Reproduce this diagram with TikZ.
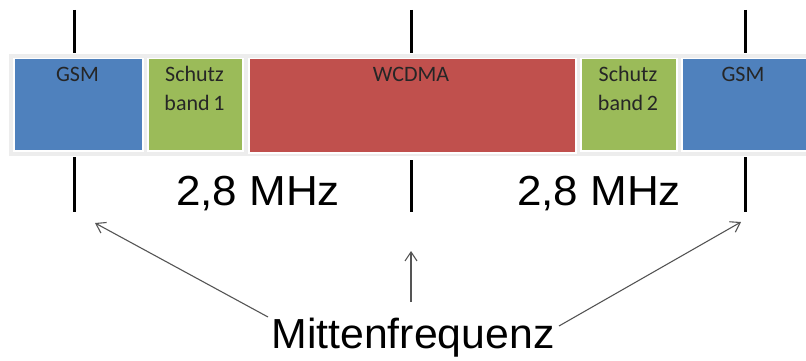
\documentclass[tikz,border=0pt]{standalone}
\usepackage{fontspec}
\setmainfont{Liberation Sans}
\newfontfamily\boxfont{Carlito}
\usetikzlibrary{arrows.meta}
\definecolor{gsmblue}{HTML}{4F81BD}
\definecolor{guardgreen}{HTML}{9BBB59}
\definecolor{wred}{HTML}{C0504D}
\definecolor{arrgray}{HTML}{555555}
\tikzset{
  band/.style={draw=white, line width=1.5pt, inner sep=0pt, anchor=north west},
  blabel/.style={font=\boxfont\fontsize{22}{29}\selectfont, text=black!85, align=center, anchor=north, inner sep=0pt},
  tick/.style={line width=3pt, black},
  big/.style={font=\fontsize{40}{44}\selectfont, inner sep=0pt},
  pointer/.style={draw=arrgray, line width=1.1pt, -{Straight Barb[length=9pt,width=12pt,line width=1.1pt]}}
}
\begin{document}
\begin{tikzpicture}[x=1pt,y=-1pt]
\useasboundingbox (0,0) rectangle (806,361);
\fill[white] (0,0) rectangle (806,361);
% strip background
\fill[black!7] (9,54) rectangle (806,156);
% bands
\node[band, fill=gsmblue, minimum width=129pt, minimum height=92pt] (gsm1) at (13,58) {};
\node[band, fill=guardgreen, minimum width=95pt, minimum height=92pt] (sb1) at (147,58) {};
\node[band, fill=wred, minimum width=327pt, minimum height=94pt] (wcdma) at (248,58) {};
\node[band, fill=guardgreen, minimum width=96pt, minimum height=92pt] (sb2) at (580,58) {};
\node[band, fill=gsmblue, minimum width=128pt, minimum height=92pt] (gsm2) at (681,58) {};
% labels
\node[blabel] (lgsm1) at (77.5,67) {GSM};
\node[blabel] (lsb1) at (194.5,66) {Schutz\\band\,1};
\node[blabel] (lw) at (411,67) {WCDMA};
\node[blabel] (lsb2) at (628,66) {Schutz\\band\,2};
\node[blabel] (lgsm2) at (743,67) {GSM};
% ticks
\draw[tick] (74,10) -- (74,53);
\draw[tick] (74,157) -- (74,212);
\draw[tick] (411,10) -- (411,53);
\draw[tick] (411,160) -- (411,212);
\draw[tick] (745,10) -- (745,53);
\draw[tick] (745,157) -- (745,212);
% widths
\node[big] (w1) at (258,194) {\scalebox{1.1}[1.05]{2,8 MHz}};
\node[big] (w2) at (599,194) {\scalebox{1.1}[1.05]{2,8 MHz}};
% Mittenfrequenz
\node[big] (mf) at (413,338) {\scalebox{1.07}[1.05]{Mittenfrequenz}};
\coordinate (s1) at (268,317);
\coordinate (e1) at (95,223);
\coordinate (s2) at (411,302);
\coordinate (e2) at (411,251);
\coordinate (s3) at (559,326);
\coordinate (e3) at (741,222);
\draw[pointer] (s1) -- (e1);
\draw[pointer] (s2) -- (e2);
\draw[pointer] (s3) -- (e3);
\end{tikzpicture}
\end{document}
